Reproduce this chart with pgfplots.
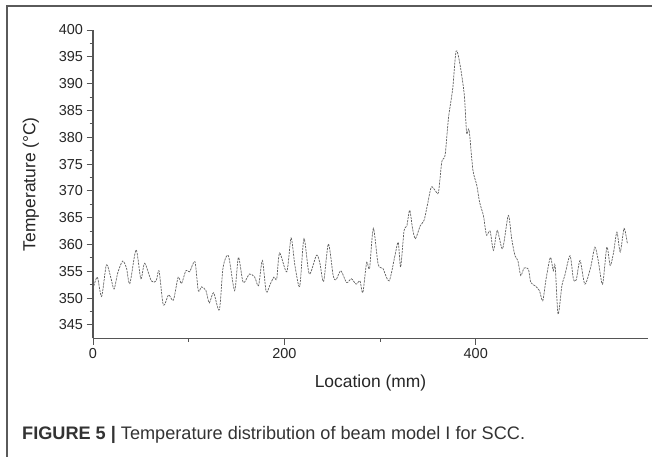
\documentclass[border=0pt]{standalone}
\usepackage{fontspec}
\setmainfont{Liberation Sans}
\usepackage{pgfplots}
\pgfplotsset{compat=1.18}
\definecolor{axisgray}{RGB}{85,85,85}
\definecolor{linegray}{RGB}{95,95,95}
\definecolor{framegray}{RGB}{90,90,90}

\begin{document}
\begin{tikzpicture}
\useasboundingbox (0,0) rectangle (652bp,457bp);
\draw[framegray, line width=1.4bp] (7bp,0) -- (7bp,451bp) -- (653bp,451bp);
\begin{axis}[
    at={(93bp,118.7bp)},
    anchor=south west,
    scale only axis,
    width=555bp,
    height=308.3bp,
    xmin=0, xmax=580,
    ymin=342.5, ymax=400,
    axis lines*=left,
    axis line style={axisgray, line width=1.2bp},
    xtick={0,200,400},
    minor x tick num=1,
    ytick={345,350,...,400},
    minor y tick num=1,
    tick align=outside,
    major tick length=6.5bp,
    minor tick length=3.5bp,
    tick style={axisgray, line width=0.9bp},
    /pgf/number format/assume math mode=true,
    tick label style={font=\fontsize{14.5}{17}\selectfont, text=black!85},
    xlabel={Location (mm)},
    ylabel={Temperature (°C)},
    label style={font=\fontsize{17.5}{20}\selectfont, text=black!85},
    xlabel style={at={(0.5,0)}, anchor=north, yshift=-33bp},
    ylabel shift=13bp,
    clip=false,
]
\addplot[linegray, line width=0.7bp, dash pattern=on 2.2bp off 1bp, smooth, tension=0.45] coordinates {
(0,351.7)(4.5,353.9)(9,350.3)(14,356.2)(18.5,353.9)(22,351.7)(26,354.8)(31,356.9)
(35,355.6)(38.5,352.7)(45,359.0)(50,353.6)(54,356.5)(61,353.2)(66,353.2)(69,355.1)
(73.5,348.7)(79,350.6)(84,349.6)(89,353.9)(92.5,352.7)(97,355.1)(101,354.9)(106.5,356.8)
(110,351.4)(113.5,352.1)(118,351.4)(121.5,349.1)(126,351.0)(132,347.8)(136,355.8)(141.5,357.9)
(148,351.4)(152,357.6)(157,352.9)(163.5,354.5)(169,353.9)(173,352.3)(177,357.0)(181,351.2)
(185,352.5)(189,353.9)(192,353.6)(195,358.4)(202.5,354.9)(207,361.2)(211,356.1)(216,352.2)
(220.5,361.1)(226,354.5)(233.5,358.0)(237,356.6)(241,353.1)(246,360.1)(251,354.2)(254,353.4)
(259,355.1)(265,352.9)(270,353.6)(275,352.6)(279,353.2)(282,351.0)(286,356.7)(289,355.5)
(293,363.0)(298,356.3)(303,355.5)(309.5,353.2)(315.5,357.9)(319,360.4)(321.5,355.8)(325,362.5)
(328,363.5)(331,366.4)(334,362.9)(337,361.1)(342,363.5)(346,364.5)(349.5,367.4)(353.5,370.7)
(357.5,370.1)(361,369.7)(364.5,375.4)(368,376.7)(371.5,383.6)(376,389.2)(379.5,396.1)(383.5,393.6)
(388,387.9)(390.5,380.7)(393,381.4)(397,373.9)(401,371.1)(404,367.9)(408,365.4)(410,362.9)
(411.5,361.7)(415,362.5)(418.5,358.9)(422.5,362.6)(428,359.2)(434,365.4)(437.5,361.1)(441,357.9)
(444,357.0)(447,354.2)(450.5,355.6)(455,355.4)(457.5,352.9)(462,352.3)(466.5,351.4)(470,349.5)
(473.5,353.6)(478,357.6)(481,355.1)(483,356.0)(486,347.0)(490,352.3)(493,354.2)(498.5,357.9)
(502,353.6)(505,353.4)(509,357.0)(514,352.6)(520,355.7)(524.5,359.5)(528,357.0)(532.5,352.6)
(537,359.5)(540.5,356.1)(544,358.5)(547.5,362.3)(551,358.6)(555,363.0)(558.5,360.1)
};
\end{axis}
\node[anchor=west, inner sep=0pt, font=\fontsize{18.2}{21}\selectfont, text=black!80] at (22bp,22bp)
  {\textbf{FIGURE 5 |} Temperature distribution of beam model I for SCC.};
\end{tikzpicture}
\end{document}
